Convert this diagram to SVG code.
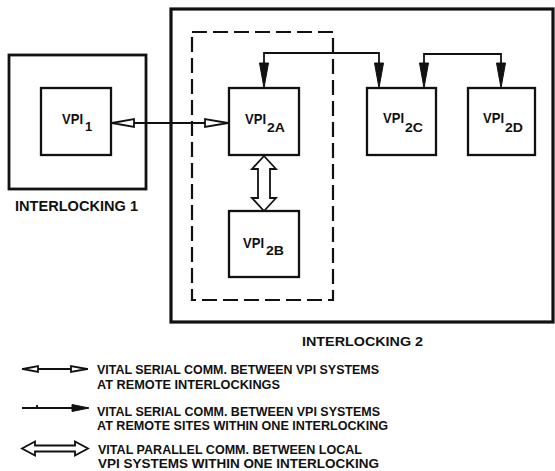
<svg xmlns="http://www.w3.org/2000/svg" width="555" height="471" viewBox="0 0 555 471">
<defs>
<style>
.box{fill:#fff;stroke:#111;stroke-width:2.3}
.outer{fill:none;stroke:#111;stroke-width:3.2}
.dash{fill:none;stroke:#111;stroke-width:2.2;stroke-dasharray:15 6}
.ln{fill:none;stroke:#111;stroke-width:1.8}
.hol{fill:#fff;stroke:#111;stroke-width:1.8;stroke-linejoin:miter}
.fil{fill:#111;stroke:#111;stroke-width:1}
.lbl{font-family:"Liberation Sans",Arial,sans-serif;font-weight:bold;fill:#111}
.vpi{font-size:14.5px}
.sub{font-size:13px}
.leg{font-size:13.5px}
</style>
</defs>
<rect width="555" height="471" fill="#fff"/>
<g id="interlocking1">
<rect class="outer" x="9" y="55" width="137" height="134" style="stroke-width:2.8"/>
<text class="lbl" x="15" y="210.5" font-size="14.5" textLength="123" lengthAdjust="spacingAndGlyphs">INTERLOCKING 1</text>
</g>
<g id="interlocking2">
<rect class="outer" x="171" y="9" width="382" height="313"/>
<rect class="dash" x="192" y="32" width="141" height="268"/>
<text class="lbl" x="302" y="346" font-size="13.5" textLength="121" lengthAdjust="spacingAndGlyphs">INTERLOCKING 2</text>
</g>
<g id="vpi1">
<rect class="box" x="41" y="88" width="70" height="67"/>
<text class="lbl vpi" x="62" y="123.5" textLength="21" lengthAdjust="spacingAndGlyphs">VPI</text>
<text class="lbl sub" x="85" y="130.5">1</text>
</g>
<g id="vpi2a">
<rect class="box" x="229" y="88" width="70" height="67"/>
<text class="lbl vpi" x="245" y="123.5" textLength="21" lengthAdjust="spacingAndGlyphs">VPI</text>
<text class="lbl sub" x="267" y="131.5" textLength="18" lengthAdjust="spacingAndGlyphs">2A</text>
</g>
<g id="vpi2b">
<rect class="box" x="229" y="211" width="70" height="66"/>
<text class="lbl vpi" x="243" y="247.5" textLength="21" lengthAdjust="spacingAndGlyphs">VPI</text>
<text class="lbl sub" x="266" y="254.5" textLength="18" lengthAdjust="spacingAndGlyphs">2B</text>
</g>
<g id="vpi2c">
<rect class="box" x="367" y="88" width="69" height="67"/>
<text class="lbl vpi" x="383" y="122.5" textLength="21" lengthAdjust="spacingAndGlyphs">VPI</text>
<text class="lbl sub" x="405" y="131.5" textLength="18" lengthAdjust="spacingAndGlyphs">2C</text>
</g>
<g id="vpi2d">
<rect class="box" x="468" y="88" width="67" height="67"/>
<text class="lbl vpi" x="483" y="122.5" textLength="21" lengthAdjust="spacingAndGlyphs">VPI</text>
<text class="lbl sub" x="505" y="131.5" textLength="18" lengthAdjust="spacingAndGlyphs">2D</text>
</g>
<g id="connectors">
<line class="ln" x1="111" y1="123" x2="229" y2="123"/>
<polygon class="hol" points="112,123 134,119 134,127"/>
<polygon class="hol" points="228,123 205,119 205,127"/>
<path class="ln" d="M264,65 V53 H379 V65"/>
<polygon class="fil" points="264,88 259.5,63 268.5,63"/>
<polygon class="fil" points="379,88 374.5,63 383.5,63"/>
<path class="ln" d="M424,65 V54 H501 V65"/>
<polygon class="fil" points="424,88 419.5,63 428.5,63"/>
<polygon class="fil" points="501,88 496.5,63 505.5,63"/>
<path class="hol" d="M264,156 L276,169 L270,169 L270,198 L276,198 L264,211 L252,198 L258,198 L258,169 L252,169 Z"/>
</g>
<g id="legend">
<line class="ln" x1="22" y1="369" x2="88" y2="369"/>
<polygon class="hol" points="23,369 38,366 38,372"/>
<polygon class="hol" points="87,369 71,366 71,372"/>
<line class="ln" x1="22" y1="408" x2="88" y2="408"/>
<line class="ln" x1="37" y1="405" x2="37" y2="408"/>
<polygon class="fil" points="89,408 72,404.5 72,411.5"/>
<path class="hol" d="M22,448.5 L35,441.5 L35,445.5 L75,445.5 L75,441.5 L88,448.5 L75,455.5 L75,451.5 L35,451.5 L35,455.5 Z"/>
<text class="lbl leg" x="97" y="373.5" textLength="282" lengthAdjust="spacingAndGlyphs">VITAL SERIAL COMM. BETWEEN VPI SYSTEMS</text>
<text class="lbl leg" x="97" y="388.5" textLength="183" lengthAdjust="spacingAndGlyphs">AT REMOTE INTERLOCKINGS</text>
<text class="lbl leg" x="97" y="415.5" textLength="283" lengthAdjust="spacingAndGlyphs">VITAL SERIAL COMM. BETWEEN VPI SYSTEMS</text>
<text class="lbl leg" x="97" y="429.5" textLength="291" lengthAdjust="spacingAndGlyphs">AT REMOTE SITES WITHIN ONE INTERLOCKING</text>
<text class="lbl leg" x="98" y="453.5" textLength="264" lengthAdjust="spacingAndGlyphs">VITAL PARALLEL COMM. BETWEEN LOCAL</text>
<text class="lbl leg" x="98" y="467.5" textLength="281" lengthAdjust="spacingAndGlyphs">VPI SYSTEMS WITHIN ONE INTERLOCKING</text>
</g>
</svg>
